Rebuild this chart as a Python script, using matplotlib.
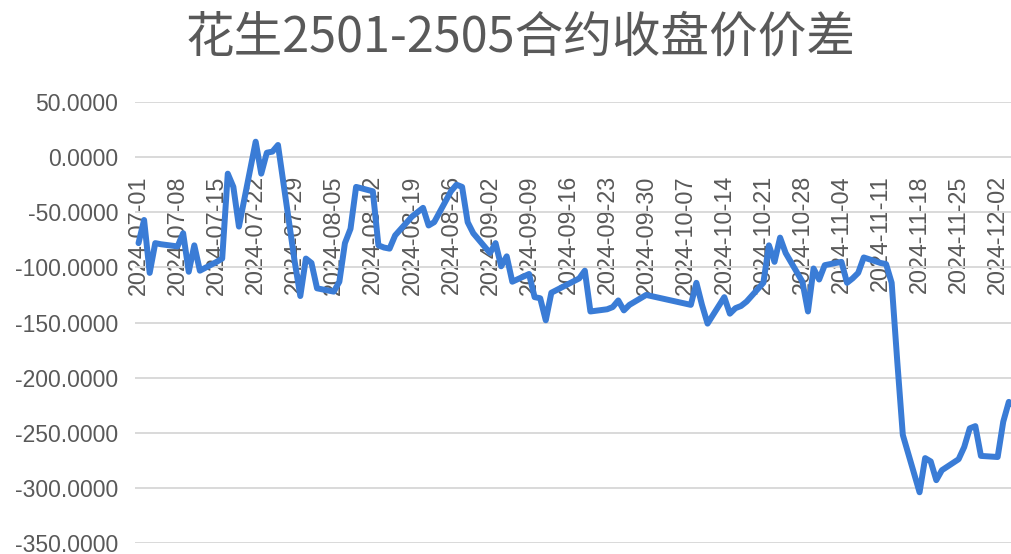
import matplotlib
matplotlib.use("Agg")
import matplotlib.pyplot as plt
import matplotlib.dates as mdates
from matplotlib.ticker import FuncFormatter
import numpy as np
import pandas as pd

plt.rcParams['font.family'] = ['Liberation Sans', 'Noto Sans CJK SC', 'DejaVu Sans']

title = "花生2501-2505合约收盘价价差"

dates = [
    "2024-07-01", "2024-07-02", "2024-07-03", "2024-07-04", "2024-07-05",
    "2024-07-08", "2024-07-09", "2024-07-10", "2024-07-11", "2024-07-12",
    "2024-07-15", "2024-07-16", "2024-07-17", "2024-07-18", "2024-07-19",
    "2024-07-22", "2024-07-23", "2024-07-24", "2024-07-25", "2024-07-26",
    "2024-07-29", "2024-07-30", "2024-07-31", "2024-08-01", "2024-08-02",
    "2024-08-05", "2024-08-06", "2024-08-07", "2024-08-08", "2024-08-09",
    "2024-08-12", "2024-08-13", "2024-08-14", "2024-08-15", "2024-08-16",
    "2024-08-19", "2024-08-20", "2024-08-21", "2024-08-22", "2024-08-23",
    "2024-08-26", "2024-08-27", "2024-08-28", "2024-08-29", "2024-08-30",
    "2024-09-02", "2024-09-03", "2024-09-04", "2024-09-05", "2024-09-06",
    "2024-09-09", "2024-09-10", "2024-09-11", "2024-09-12", "2024-09-13",
    "2024-09-18", "2024-09-19", "2024-09-20",
    "2024-09-23", "2024-09-24", "2024-09-25", "2024-09-26", "2024-09-27",
    "2024-09-30",
    "2024-10-08", "2024-10-09", "2024-10-10", "2024-10-11",
    "2024-10-14", "2024-10-15", "2024-10-16", "2024-10-17", "2024-10-18",
    "2024-10-21", "2024-10-22", "2024-10-23", "2024-10-24", "2024-10-25",
    "2024-10-28", "2024-10-29", "2024-10-30", "2024-10-31", "2024-11-01",
    "2024-11-04", "2024-11-05", "2024-11-06", "2024-11-07", "2024-11-08",
    "2024-11-11", "2024-11-12", "2024-11-13", "2024-11-14", "2024-11-15",
    "2024-11-18", "2024-11-19", "2024-11-20", "2024-11-21", "2024-11-22",
    "2024-11-25", "2024-11-26", "2024-11-27", "2024-11-28", "2024-11-29",
    "2024-12-02", "2024-12-03", "2024-12-04", "2024-12-05",
]

spread = [
    -78, -57, -105, -78, -79,
    -81, -69, -104, -80, -103,
    -95, -92, -15, -27, -63,
    14, -15, 4, 5, 11,
    -95, -126, -92, -96, -119,
    -122, -113, -78, -65, -27,
    -31, -80, -82, -83, -71,
    -54, -50, -46, -62, -59,
    -31, -25, -27, -59, -69,
    -87, -78, -99, -90, -113,
    -106, -127, -128, -148, -123,
    -110, -103, -140,
    -138, -136, -130, -139, -134,
    -125,
    -134, -114, -134, -151,
    -127, -142, -137, -135, -131,
    -114, -80, -95, -73, -87,
    -113, -140, -101, -111, -98,
    -95, -114, -110, -105, -91,
    -96, -97, -114, -185, -252,
    -304, -273, -276, -293, -284,
    -274, -263, -246, -244, -271,
    -272, -240, -222, -226,
]

y_ticks = [-350, -300, -250, -200, -150, -100, -50, 0, 50]
x_tick_start = "2024-07-01"
x_tick_end = "2024-12-02"

fig = plt.figure(figsize=(10.12, 5.54), dpi=100)
ax = fig.add_axes([135 / 1012, 11 / 554, 1 - 135 / 1012, 441 / 554])

x = pd.to_datetime(dates)
ax.plot(x, spread, color='#3A7CD6', lw=4.3,
        solid_joinstyle='round', solid_capstyle='round', zorder=3)

ax.set_ylim(-350, 50)
ax.set_yticks(y_ticks)
ax.yaxis.set_major_formatter(FuncFormatter(lambda v, p: f"{v:.4f}"))

start = mdates.date2num(pd.Timestamp(x_tick_start))
ax.set_xlim(start - 0.63, start + 156.57)
tick_dates = pd.date_range(x_tick_start, x_tick_end, freq="7D")
ax.set_xticks(tick_dates)
ax.set_xticklabels([d.strftime("%Y-%m-%d") for d in tick_dates])

ax.spines['bottom'].set_position(('data', 0))
for s in ax.spines.values():
    s.set_visible(False)

ax.tick_params(axis='x', length=0, pad=13.0, labelrotation=90,
               labelsize=16.8, labelcolor='#595959')
ax.tick_params(axis='y', length=0, pad=12, labelsize=16.5, labelcolor='#595959')
ax.grid(axis='y', color='#D9D9D9', lw=1.4)
ax.grid(axis='x', visible=False)
ax.set_axisbelow(True)

fig.text(521 / 1012, 1 - 38 / 554, title, ha='center', va='center',
         fontsize=35, color='#595959', family=['Noto Sans CJK SC', 'DejaVu Sans'])

fig.savefig("out.png", dpi=100)
